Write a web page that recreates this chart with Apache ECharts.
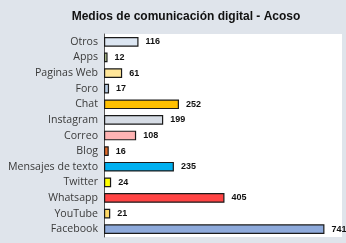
<!DOCTYPE html>
<html>
<head>
<meta charset="utf-8">
<script src="https://cdn.jsdelivr.net/npm/echarts@6/dist/echarts.min.js"></script>
<style>
  html, body { margin: 0; padding: 0; background: #dfe4eb; }
  #chart { width: 346px; height: 243px; }
</style>
</head>
<body>
<div id="chart"></div>
<script>
// categories, top to bottom
var categorias = ['Otros', 'Apps', 'Paginas Web', 'Foro', 'Chat', 'Instagram', 'Correo',
    'Blog', 'Mensajes de texto', 'Twitter', 'Whatsapp', 'YouTube', 'Facebook'];
var valores = [116, 12, 61, 17, 252, 199, 108, 16, 235, 24, 405, 21, 741];
var colores = ['#dce6f2', '#c3d69b', '#ffe699', '#b8cce4', '#ffc000', '#d6dce5', '#ffb3b3',
    '#e46c2a', '#00b0f0', '#ffff00', '#ff4444', '#ffd966', '#8eaadb'];

var chart = echarts.init(document.getElementById('chart'));

// category axis is inverted so first item goes on top
var datos = [];
for (var i = 0; i < valores.length; i++) {
    datos.push({
        value: valores[i],
        itemStyle: { color: colores[i] }
    });
}

var option = {
    backgroundColor: '#dfe4eb',
    animation: false,
    title: {
        text: 'Medios de comunicación digital - Acoso',
        left: 181,
        textAlign: 'center',
        top: 6,
        textStyle: {
            fontFamily: 'Liberation Sans',
            fontSize: 12,
            fontWeight: 'bold',
            color: '#111'
        }
    },
    grid: {
        left: 104,
        top: 34,
        width: 238,
        height: 203,
        show: true,
        backgroundColor: '#ffffff',
        borderWidth: 0
    },
    xAxis: {
        type: 'value',
        min: 0,
        max: 800,
        show: false
    },
    yAxis: {
        type: 'category',
        data: categorias,
        inverse: true,
        axisLine: { show: true, lineStyle: { color: '#555', width: 1 } },
        axisTick: { show: false },
        axisLabel: {
            fontFamily: 'Open Sans',
            fontSize: 10.6,
            color: '#3a3a3a',
            margin: 6
        }
    },
    series: [{
        type: 'bar',
        data: datos,
        barCategoryGap: '38%',
        itemStyle: {
            borderColor: '#1a1a1a',
            borderWidth: 1.2
        },
        label: {
            show: true,
            position: 'right',
            distance: 7,
            fontFamily: 'Liberation Sans',
            fontSize: 9,
            fontWeight: 'bold',
            color: '#111'
        }
    }]
};

chart.setOption(option);
</script>
</body>
</html>
